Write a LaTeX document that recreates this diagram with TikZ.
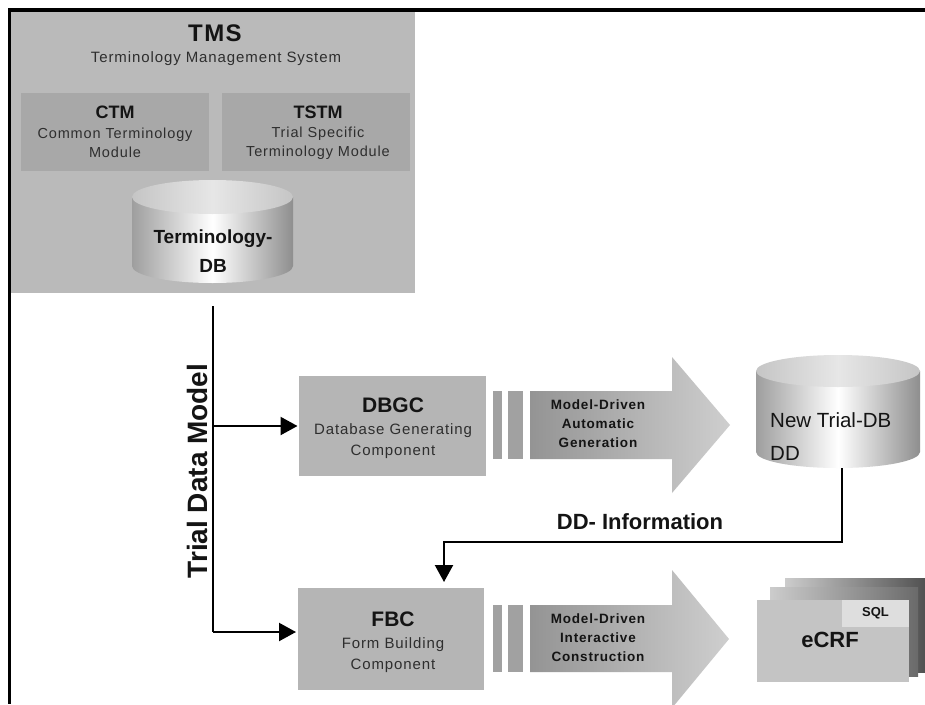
\documentclass[tikz,border=0pt]{standalone}
\usepackage{fontspec}
\setmainfont{Liberation Sans}
\newfontfamily\spc[LetterSpace=6]{Liberation Sans}
\usetikzlibrary{arrows.meta}

\definecolor{tmsbg}{gray}{0.73}
\definecolor{modbg}{gray}{0.66}
\definecolor{compbg}{gray}{0.71}
\definecolor{barbg}{gray}{0.63}
\definecolor{arrA}{gray}{0.58}
\definecolor{arrB}{gray}{0.81}
\definecolor{cylside}{gray}{0.62}
\definecolor{cyltop}{gray}{0.84}
\definecolor{pagefront}{gray}{0.77}
\definecolor{pageA}{gray}{0.80}
\definecolor{pageB}{gray}{0.32}
\definecolor{sqlbg}{gray}{0.87}
\definecolor{txt}{gray}{0.08}
\definecolor{txtlight}{gray}{0.18}

\tikzset{
  pics/dbcyl/.style args={#1/#2/#3}{code={
    % side of the cylinder, shaded from edge to edge
    \shade[left color=cylside, right color=cylside!90!black, middle color=white]
      (-#1,0) -- (-#1,#3) arc[start angle=180, end angle=360, x radius=#1pt, y radius=#2pt]
      -- (#1,0) -- cycle;
    % lid
    \shade[left color=cyltop!92!black, right color=cyltop!92!black, middle color=cyltop!60!white]
      (0,0) ellipse[x radius=#1pt, y radius=#2pt];
  }}
}

\begin{document}
\begin{tikzpicture}[x=1pt,y=-1pt,
  panel/.style={draw=none, inner sep=0pt, outer sep=0pt, anchor=north west},
  conn/.style={line width=2.2pt, -{Triangle[length=17pt,width=18pt]}},
  ttl/.style={font=\bfseries\fontsize{21}{23}\selectfont, text=txt, inner sep=0pt},
  sub/.style={font=\spc\fontsize{15}{21}\selectfont, text=txtlight, align=center, inner sep=0pt},
  gen/.style={font=\spc\bfseries\fontsize{13.5}{19}\selectfont, text=txt, align=center, inner sep=0pt},
]
\useasboundingbox (0,0) rectangle (925,704);
\clip (0,0) rectangle (925,704);
\fill[white] (0,0) rectangle (925,704);

% ---------- Terminology Management System ----------
\node[panel, fill=tmsbg, minimum width=404, minimum height=282] (tms) at (11,11) {};
\node[panel, fill=modbg, minimum width=188, minimum height=78] (ctm) at (21,93) {};
\node[panel, fill=modbg, minimum width=188, minimum height=78] (tstm) at (222,93) {};

\node[ttl, font=\spc\bfseries\fontsize{24}{26}\selectfont] (tmsname) at (215,33) {TMS};
\node[sub] (tmsfull) at (216,59) {Terminology Management System};
\node[ttl, font=\bfseries\fontsize{18}{20}\selectfont] (ctmname) at (115,112) {CTM};
\node[sub, font=\spc\fontsize{14.5}{18.5}\selectfont] (ctmfull) at (115,143) {Common Terminology\\Module};
\node[ttl, font=\bfseries\fontsize{18}{20}\selectfont] (tstmname) at (318,112) {TSTM};
\node[sub, font=\spc\fontsize{14.5}{18.5}\selectfont] (tstmfull) at (318,143) {Trial Specific\\Terminology Module};

\pic at (212.5,197) {dbcyl=80.5/17/69};
\node[ttl, font=\bfseries\fontsize{19}{21}\selectfont] (termdb1) at (213,239) {Terminology-};
\node[ttl, font=\bfseries\fontsize{19}{21}\selectfont] (termdb2) at (213,266) {DB};

% outer frame
\draw[line width=3.6pt] (925,9.8) -- (9.5,9.8) -- (9.5,704);

% ---------- Database Generating Component ----------
\node[panel, fill=compbg, minimum width=187, minimum height=100] (dbgc) at (299,376) {};
\node[ttl] (dbgcname) at (393,405) {DBGC};
\node[sub] (dbgcfull) at (393,441) {Database Generating\\Component};

\fill[barbg] (493,391) rectangle (502,459);
\fill[barbg] (508,391) rectangle (523,459);
\shade[left color=arrA, right color=arrB]
  (530,391) -- (672,391) -- (672,357) -- (730,425) -- (672,493) -- (672,459) -- (530,459) -- cycle;
\node[gen] (gen1) at (598,424) {Model-Driven\\Automatic\\Generation};

\pic at (838,371) {dbcyl=82/16/81};
\node[inner sep=0pt, minimum width=164, minimum height=113] (newdb) at (838,411.5) {};
\node[font=\fontsize{20.5}{22}\selectfont, text=txt, inner sep=0pt, anchor=west] (newdb1) at (770,420) {New Trial-DB};
\node[font=\fontsize{20.5}{22}\selectfont, text=txt, inner sep=0pt, anchor=west] (newdb2) at (770,453) {DD};

% ---------- Form Building Component ----------
\node[panel, fill=compbg, minimum width=186, minimum height=102] (fbc) at (298,588) {};
\node[ttl] (fbcname) at (393,619) {FBC};
\node[sub] (fbcfull) at (393,655) {Form Building\\Component};

\fill[barbg] (493,605) rectangle (502,672);
\fill[barbg] (508,605) rectangle (523,672);
\shade[left color=arrA, right color=arrB]
  (530,605) -- (672,605) -- (672,570) -- (729,639) -- (672,708) -- (672,672) -- (530,672) -- cycle;
\node[gen] (gen2) at (598,638) {Model-Driven\\Interactive\\Construction};

% stacked forms
\shade[left color=pageA, right color=pageB] (785,578) rectangle (925,672);
\shade[left color=pageA, right color=pageB!80!pageA] (770,587) rectangle (918,676);
\node[panel, fill=pagefront, minimum width=152, minimum height=82] (ecrf) at (757,600) {};
\node[panel, fill=sqlbg, minimum width=67, minimum height=27] (sql) at (842,600) {};
\node[ttl, font=\bfseries\fontsize{13}{14}\selectfont] (sqltext) at (875.5,613.5) {SQL};
\node[ttl, font=\bfseries\fontsize{22}{24}\selectfont] (ecrftext) at (830,640) {eCRF};

% ---------- connectors ----------
\coordinate (trunktop) at (213,306);
\coordinate (trunkmid) at (213,426);
\coordinate (trunkbot) at (213,632);
\draw[line width=2.2pt] (trunktop) -- (trunkbot);
\draw[conn, shorten >=1.5pt] (trunkmid) -- (dbgc.west);
\draw[conn, shorten >=2pt] (trunkbot) -- (fbc.west |- trunkbot);
\node[ttl, font=\bfseries\fontsize{28}{30}\selectfont, rotate=90] (tdm) at (197,471) {Trial Data Model};

\draw[conn, shorten >=6pt] ([xshift=4pt]newdb.south) -- ++(0,74) -| ([xshift=53pt]fbc.north);
\node[ttl, font=\bfseries\fontsize{22}{24}\selectfont] (ddinfo) at (640,522) {DD- Information};

\end{tikzpicture}
\end{document}
